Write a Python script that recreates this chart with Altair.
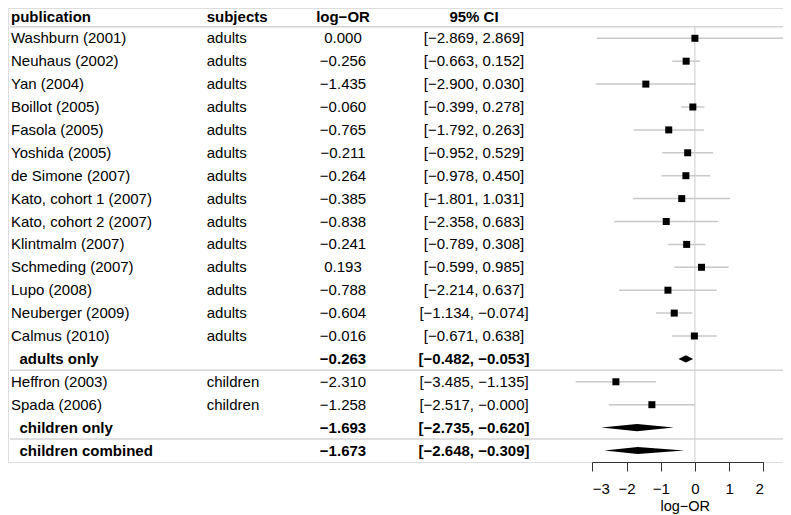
import altair as alt
import pandas as pd

publication = [
    "Washburn (2001)", "Neuhaus (2002)", "Yan (2004)", "Boillot (2005)",
    "Fasola (2005)", "Yoshida (2005)", "de Simone (2007)",
    "Kato, cohort 1 (2007)", "Kato, cohort 2 (2007)", "Klintmalm (2007)",
    "Schmeding (2007)", "Lupo (2008)", "Neuberger (2009)", "Calmus (2010)",
    "adults only", "Heffron (2003)", "Spada (2006)", "children only",
    "children combined",
]
subjects = [
    "adults", "adults", "adults", "adults", "adults", "adults", "adults",
    "adults", "adults", "adults", "adults", "adults", "adults", "adults",
    "", "children", "children", "", "",
]
log_or = [
    0.000, -0.256, -1.435, -0.060, -0.765, -0.211, -0.264, -0.385, -0.838,
    -0.241, 0.193, -0.788, -0.604, -0.016, -0.263, -2.310, -1.258, -1.693,
    -1.673,
]
ci_low = [
    -2.869, -0.663, -2.900, -0.399, -1.792, -0.952, -0.978, -1.801, -2.358,
    -0.789, -0.599, -2.214, -1.134, -0.671, -0.482, -3.485, -2.517, -2.735,
    -2.648,
]
ci_high = [
    2.869, 0.152, 0.030, 0.278, 0.263, 0.529, 0.450, 1.031, 0.683,
    0.308, 0.985, 0.637, -0.074, 0.638, -0.053, -1.135, -0.0, -0.620,
    -0.309,
]
is_summary = [False] * 14 + [True, False, False, True, True]
headers = ["publication", "subjects", "log−OR", "95% CI"]
axis_ticks = [-3, -2, -1, 0, 1, 2]
separators_after = [0, 15, 18]

FONT = "Liberation Sans"
FS = 15
H = 454
DIAMOND_HALF = 0.155


def fmt(v):
    return f"{v:.3f}".replace("-", "\u2212")


rows = list(range(1, len(publication) + 1))
df = pd.DataFrame({
    "row": rows,
    "label": publication,
    "subjects": subjects,
    "est": log_or,
    "lo": ci_low,
    "hi": ci_high,
    "summary": is_summary,
})
df["est_txt"] = [fmt(v) for v in log_or]
df["ci_txt"] = [f"[{fmt(a)}, {fmt(b)}]" for a, b in zip(ci_low, ci_high)]

studies = df[~df["summary"]]
summaries = df[df["summary"]]

# diamond outlines for summary rows
drows = []
for _, r in summaries.iterrows():
    drows.append({"label": r["label"], "x": r["lo"], "y1": r["row"], "y2": r["row"]})
    drows.append({"label": r["label"], "x": r["est"], "y1": r["row"] - DIAMOND_HALF,
                  "y2": r["row"] + DIAMOND_HALF})
    drows.append({"label": r["label"], "x": r["hi"], "y1": r["row"], "y2": r["row"]})
diam = pd.DataFrame(drows)

xs = alt.Scale(domain=[-3, 2], range=[584.3, 755.3], nice=False, zero=False)
ys = alt.Scale(domain=[0, 19], range=[7.4, 7.4 + 22.9 * 19], nice=False, zero=False)
xaxis = alt.Axis(
    values=axis_ticks, title="log−OR", grid=False, tickSize=9, tickWidth=1,
    tickColor="#333333", domainColor="#333333", domainWidth=1,
    labelFontSize=15, labelColor="black", labelPadding=10,
    titleFontSize=14.5, titleFontWeight="normal", titleColor="black",
    titleX=676.7, titleY=44.5, titleAlign="center", titleBaseline="middle",
    titleAnchor="start",
)

sep_df = pd.DataFrame({"y": [s + 0.5 for s in separators_after]})
seps = alt.Chart(sep_df).mark_rule(color="#d4d4d4", strokeWidth=1.5).encode(
    y=alt.Y("y:Q", scale=ys, axis=None),
    x=alt.value(2), x2=alt.value(783),
)

zero = alt.Chart(pd.DataFrame({"x": [0.0], "y": [0.5]})).mark_rule(
    color="#cccccc", strokeWidth=1
).encode(
    x=alt.X("x:Q", scale=xs, axis=xaxis),
    y=alt.Y("y:Q", scale=ys, axis=None),
    y2=alt.value(H),
)

ci = alt.Chart(studies).mark_rule(color="#c8c8c8", strokeWidth=1.5).encode(
    x=alt.X("lo:Q", scale=xs, axis=xaxis),
    x2="hi:Q",
    y=alt.Y("row:Q", scale=ys, axis=None),
)

squares = alt.Chart(studies).mark_square(size=49, color="black", opacity=1).encode(
    x=alt.X("est:Q", scale=xs, axis=xaxis),
    y=alt.Y("row:Q", scale=ys, axis=None),
)

diamonds = alt.Chart(diam).mark_area(color="black", orient="vertical", opacity=1).encode(
    x=alt.X("x:Q", scale=xs, axis=xaxis),
    y=alt.Y("y1:Q", scale=ys, axis=None),
    y2="y2:Q",
    detail="label:N",
)


def txt(data, field, x, align, bold, dy=0):
    return alt.Chart(data).mark_text(
        align=align, baseline="middle", fontSize=FS, font=FONT,
        fontWeight="bold" if bold else "normal", color="black", dy=dy,
    ).encode(
        x=alt.value(x),
        y=alt.Y("row:Q", scale=ys, axis=None),
        text=f"{field}:N",
    )


head_df = pd.DataFrame({"row": [0], "h0": [headers[0]], "h1": [headers[1]],
                        "h2": [headers[2]], "h3": [headers[3]]})

layers = [
    seps, zero, ci, squares, diamonds,
    txt(head_df, "h0", 3, "left", True, 1.5),
    txt(head_df, "h1", 198.7, "left", True, 1.5),
    txt(head_df, "h2", 335, "center", True, 1.5),
    txt(head_df, "h3", 466, "center", True, 1.5),
    txt(studies, "label", 3, "left", False),
    txt(studies, "subjects", 198.7, "left", False),
    txt(studies, "est_txt", 335, "center", False),
    txt(studies, "ci_txt", 466, "center", False),
    txt(summaries, "label", 11.5, "left", True),
    txt(summaries, "est_txt", 335, "center", True),
    txt(summaries, "ci_txt", 466, "center", True),
]

chart = alt.layer(*layers).properties(
    width=775, height=H,
    autosize=alt.AutoSizeParams(type="none"),
    padding={"left": 0, "top": 0, "right": 0, "bottom": 53},
).configure_view(stroke=None).configure(font=FONT, background="white")

chart.save("out.html", embed_options={"renderer": "svg", "actions": False})
